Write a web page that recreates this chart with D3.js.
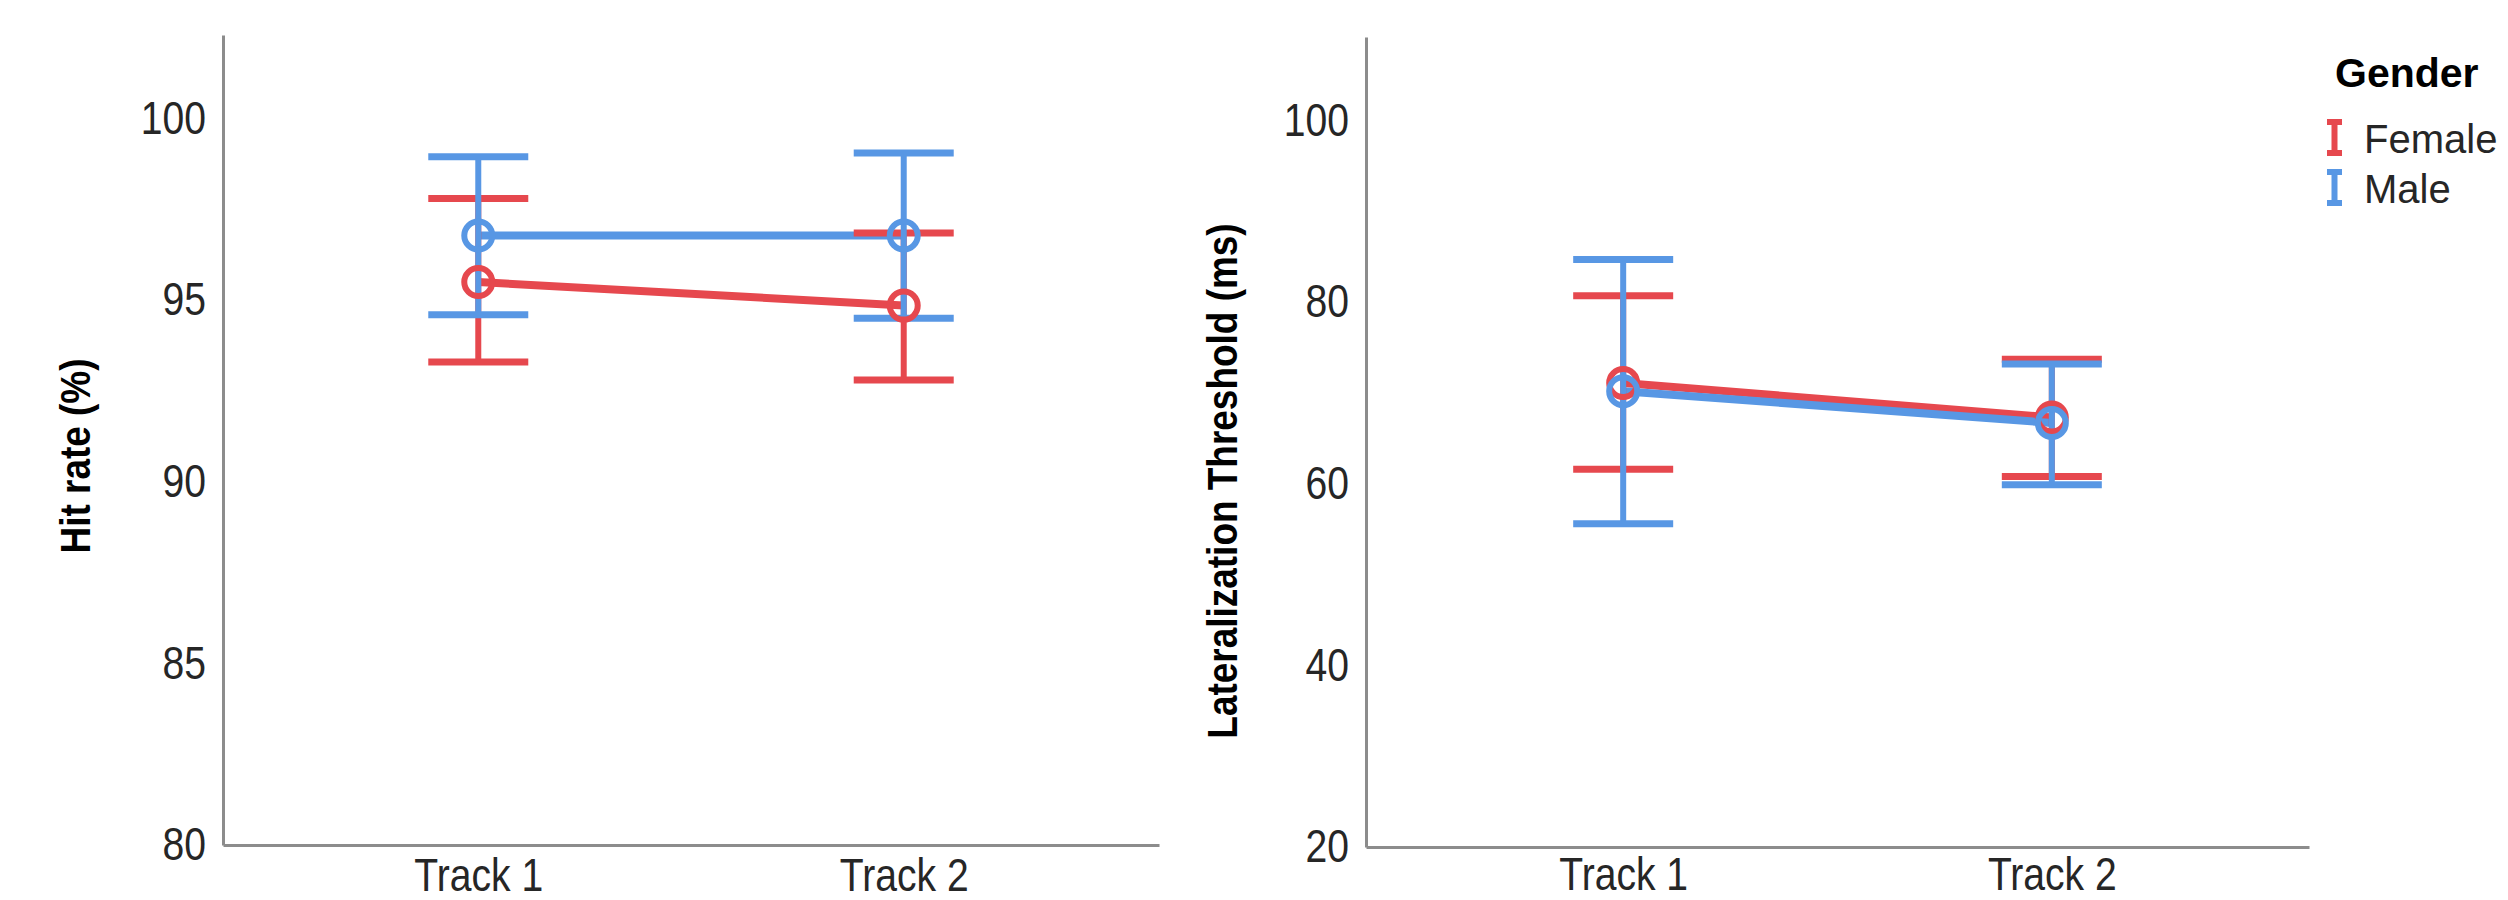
<!DOCTYPE html>
<html>
<head>
<meta charset="utf-8">
<script src="https://cdn.jsdelivr.net/npm/d3@7"></script>
<style>
  body { margin: 0; background: #fff; }
  svg { display: block; font-family: "Liberation Sans", Arial, sans-serif; }
</style>
</head>
<body>
<div id="chart"></div>
<script>
// categories
const tracks = ["Track 1", "Track 2"];
const genders = ["Female", "Male"];

// Hit rate (%) - means and 95% CI
const hitFemaleMean = [95.5, 94.85];
const hitFemaleLow = [93.3, 92.8];
const hitFemaleHigh = [97.8, 96.85];
const hitMaleMean = [96.78, 96.78];
const hitMaleLow = [94.6, 94.5];
const hitMaleHigh = [98.95, 99.05];

// Lateralization threshold (ms)
const latFemaleMean = [71.1, 67.3];
const latFemaleLow = [61.6, 60.8];
const latFemaleHigh = [80.7, 73.7];
const latMaleMean = [70.2, 66.7];
const latMaleLow = [55.6, 59.9];
const latMaleHigh = [84.7, 73.2];

// tick labels
const hitTicks = [80, 85, 90, 95, 100];
const latTicks = [20, 40, 60, 80, 100];

const colors = { Female: "#e6484e", Male: "#5897e4" };

const svg = d3.select("#chart")
    .append("svg")
    .attr("width", 2508)
    .attr("height", 900);

function makeSeries(gender, mean, low, high) {
    return tracks.map((t, i) => ({ gender: gender, track: t, mean: mean[i], low: low[i], high: high[i] }));
}

function drawPanel(opts) {
    const x = d3.scalePoint()
        .domain(tracks)
        .range([opts.left, opts.right])
        .padding(0.6);

    const y = d3.scaleLinear()
        .domain(opts.domain)
        .range([opts.bottom, opts.top]);

    const g = svg.append("g");

    // y axis
    const yAxis = g.append("g")
        .attr("transform", `translate(${opts.left},0)`)
        .call(d3.axisLeft(y).tickValues(opts.ticks).tickSize(0).tickSizeOuter(0).tickPadding(20));
    yAxis.select(".domain").attr("stroke", "#8c8c8c").attr("stroke-width", 3);
    yAxis.selectAll("text")
        .attr("font-size", 46)
        .attr("fill", "#262626")
        .attr("transform", "scale(0.85,1)")
        .style("font-family", "Liberation Sans, Arial, sans-serif");

    // x axis
    const xAxis = g.append("g")
        .attr("transform", `translate(0,${opts.bottom})`)
        .call(d3.axisBottom(x).tickSize(0).tickSizeOuter(0).tickPadding(opts.xPad));
    xAxis.select(".domain").attr("stroke", "#8c8c8c").attr("stroke-width", 3);
    xAxis.selectAll(".tick text")
        .attr("font-size", 46)
        .attr("fill", "#262626")
        .attr("transform", "scale(0.85,1)")
        .style("font-family", "Liberation Sans, Arial, sans-serif");

    // axis title
    g.append("text")
        .attr("transform", `translate(${opts.titleX},${opts.titleY}) rotate(-90) scale(0.88,1)`)
        .attr("text-anchor", "middle")
        .attr("font-size", 42)
        .attr("font-weight", "bold")
        .attr("fill", "#000")
        .text(opts.title);

    const line = d3.line()
        .x(d => x(d.track))
        .y(d => y(d.mean));

    // mean lines
    g.append("g")
        .selectAll("path")
        .data(opts.series)
        .join("path")
        .attr("d", d => line(d))
        .attr("fill", "none")
        .attr("stroke", d => colors[d[0].gender])
        .attr("stroke-width", 8);

    const capHalf = 50;
    // error bars
    opts.series.forEach(s => {
        const eb = g.append("g")
            .attr("stroke", colors[s[0].gender]);
        eb.selectAll("line.v")
            .data(s)
            .join("line")
            .attr("class", "v")
            .attr("x1", d => x(d.track))
            .attr("x2", d => x(d.track))
            .attr("y1", d => y(d.low))
            .attr("y2", d => y(d.high))
            .attr("stroke-width", 6);
        eb.selectAll("line.top")
            .data(s)
            .join("line")
            .attr("class", "top")
            .attr("x1", d => x(d.track) - capHalf)
            .attr("x2", d => x(d.track) + capHalf)
            .attr("y1", d => y(d.high))
            .attr("y2", d => y(d.high))
            .attr("stroke-width", 7);
        eb.selectAll("line.bot")
            .data(s)
            .join("line")
            .attr("class", "bot")
            .attr("x1", d => x(d.track) - capHalf)
            .attr("x2", d => x(d.track) + capHalf)
            .attr("y1", d => y(d.low))
            .attr("y2", d => y(d.low))
            .attr("stroke-width", 7);
    });

    // mean markers
    opts.series.forEach(s => {
        g.append("g")
            .selectAll("circle")
            .data(s)
            .join("circle")
            .attr("cx", d => x(d.track))
            .attr("cy", d => y(d.mean))
            .attr("r", 14)
            .attr("fill", "none")
            .attr("stroke", colors[s[0].gender])
            .attr("stroke-width", 6);
    });
}

drawPanel({
    left: 223, right: 1159, top: 35, bottom: 845,
    domain: [80, 102.3],
    ticks: hitTicks,
    xPad: 13,
    title: "Hit rate (%)",
    titleX: 90, titleY: 456,
    series: [
        makeSeries("Female", hitFemaleMean, hitFemaleLow, hitFemaleHigh),
        makeSeries("Male", hitMaleMean, hitMaleLow, hitMaleHigh)
    ]
});

drawPanel({
    left: 1366, right: 2309, top: 37, bottom: 847,
    domain: [20, 109.2],
    ticks: latTicks,
    xPad: 10,
    title: "Lateralization Threshold (ms)",
    titleX: 1237, titleY: 481,
    series: [
        makeSeries("Female", latFemaleMean, latFemaleLow, latFemaleHigh),
        makeSeries("Male", latMaleMean, latMaleLow, latMaleHigh)
    ]
});

// legend
const legend = svg.append("g").attr("transform", "translate(2326,0)");
legend.append("text")
    .attr("x", 9)
    .attr("y", 87)
    .attr("font-size", 41)
    .attr("font-weight", "bold")
    .attr("fill", "#000")
    .text("Gender");

const item = legend.selectAll("g.item")
    .data(genders)
    .join("g")
    .attr("class", "item")
    .attr("transform", (d, i) => `translate(0,${120 + i * 50})`);

item.append("path")
    .attr("d", "M8.5,2V33M1,2H16M1,33H16")
    .attr("fill", "none")
    .attr("stroke", d => colors[d])
    .attr("stroke-width", 6);

item.append("text")
    .attr("x", 38)
    .attr("y", 33)
    .attr("font-size", 40)
    .attr("fill", "#262626")
    .text(d => d);
</script>
</body>
</html>
